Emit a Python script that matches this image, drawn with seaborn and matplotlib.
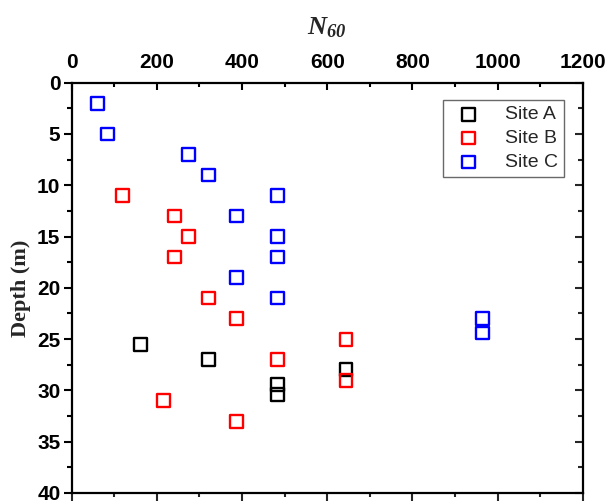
import matplotlib
matplotlib.use("Agg")
import matplotlib.pyplot as plt
import seaborn as sns
import pandas as pd
from matplotlib.ticker import MultipleLocator

# ---- data ----
site_a_n60 = [162, 322, 484, 484, 644]
site_a_depth = [25.5, 27, 29.4, 30.4, 28]

site_b_n60 = [120, 241, 275, 241, 322, 387, 484, 215, 387, 644, 644]
site_b_depth = [11, 13, 15, 17, 21, 23, 27, 31, 33, 25, 29]

site_c_n60 = [61, 85, 275, 322, 484, 387, 484, 484, 387, 484, 964, 964]
site_c_depth = [2, 5, 7, 9, 11, 13, 15, 17, 19, 21, 23, 24.4]

site_names = ["Site A", "Site B", "Site C"]
site_colors = ["#000000", "#ff0000", "#0000ff"]

x_ticks = [0, 200, 400, 600, 800, 1000, 1200]
y_ticks = [0, 5, 10, 15, 20, 25, 30, 35, 40]

sns.set_style("white")
plt.rcParams["font.family"] = ["Liberation Sans", "DejaVu Sans"]
plt.rcParams["mathtext.fontset"] = "custom"
plt.rcParams["mathtext.bfit"] = "Liberation Serif:italic:bold"
plt.rcParams["mathtext.it"] = "Liberation Serif:italic"
plt.rcParams["mathtext.rm"] = "Liberation Serif"

fig = plt.figure(figsize=(6.06, 5.01), dpi=100)
ax = fig.add_axes([0.118, 0.016, 0.844, 0.819])

frames = []
for name, xs, ys in zip(site_names,
                        [site_a_n60, site_b_n60, site_c_n60],
                        [site_a_depth, site_b_depth, site_c_depth]):
    frames.append(pd.DataFrame({"N60": xs, "Depth": ys, "Site": name}))
df = pd.concat(frames, ignore_index=True)

for name, col in zip(site_names, site_colors):
    sub = df[df["Site"] == name]
    sns.scatterplot(data=sub, x="N60", y="Depth", ax=ax, marker="s", s=85,
                    facecolor="none", edgecolor=col, linewidth=1.7,
                    label=name, zorder=3)

ax.set_xlim(0, 1200)
ax.set_ylim(40, 0)
ax.set_xticks(x_ticks)
ax.set_yticks(y_ticks)
ax.xaxis.set_minor_locator(MultipleLocator(100))
ax.yaxis.set_minor_locator(MultipleLocator(2.5))

ax.xaxis.tick_top()
ax.xaxis.set_label_position("top")
ax.tick_params(axis="x", which="both", direction="in", top=True, bottom=False,
               labeltop=True, labelbottom=False, colors="black", pad=8)
ax.tick_params(axis="x", which="major", length=5, width=1.5, labelsize=15)
ax.tick_params(axis="x", which="minor", length=3, width=1.5)
ax.tick_params(axis="y", which="both", direction="out", left=True, right=False,
               colors="black", pad=2)
ax.tick_params(axis="y", which="major", length=6, width=1.5, labelsize=15)
ax.tick_params(axis="y", which="minor", length=3.5, width=1.5)
for lab in ax.get_xticklabels() + ax.get_yticklabels():
    lab.set_fontweight("bold")

# bottom (outward) and right (inward) ticks without labels
secx = ax.secondary_xaxis("bottom")
secx.set_xticks(x_ticks)
secx.xaxis.set_minor_locator(MultipleLocator(100))
secx.tick_params(axis="x", which="both", direction="out", labelbottom=False, width=1.5)
secx.tick_params(axis="x", which="major", length=6)
secx.tick_params(axis="x", which="minor", length=3)
secx.spines["bottom"].set_visible(False)

secy = ax.secondary_yaxis("right")
secy.set_yticks(y_ticks)
secy.yaxis.set_minor_locator(MultipleLocator(2.5))
secy.tick_params(axis="y", which="both", direction="in", labelright=False, width=1.5)
secy.tick_params(axis="y", which="major", length=6)
secy.tick_params(axis="y", which="minor", length=3.5)
secy.spines["right"].set_visible(False)

for sp in ax.spines.values():
    sp.set_visible(True)
    sp.set_color("black")
    sp.set_linewidth(1.6)

ax.set_xlabel(r"$\mathbfit{N}_{\mathbfit{60}}$", fontsize=19, labelpad=13)
ax.set_ylabel("Depth (m)", fontsize=16, fontweight="bold",
              family=["Liberation Serif", "DejaVu Serif"], labelpad=4)

leg = ax.legend(loc="upper right", bbox_to_anchor=(0.963, 0.958), borderaxespad=0,
                frameon=True, fancybox=False, fontsize=14, handletextpad=0.9,
                borderpad=0.3, labelspacing=0.32, markerscale=1.0)
leg.get_frame().set_edgecolor("#444444")
leg.get_frame().set_linewidth(1.0)

fig.savefig("out.png", dpi=100)
